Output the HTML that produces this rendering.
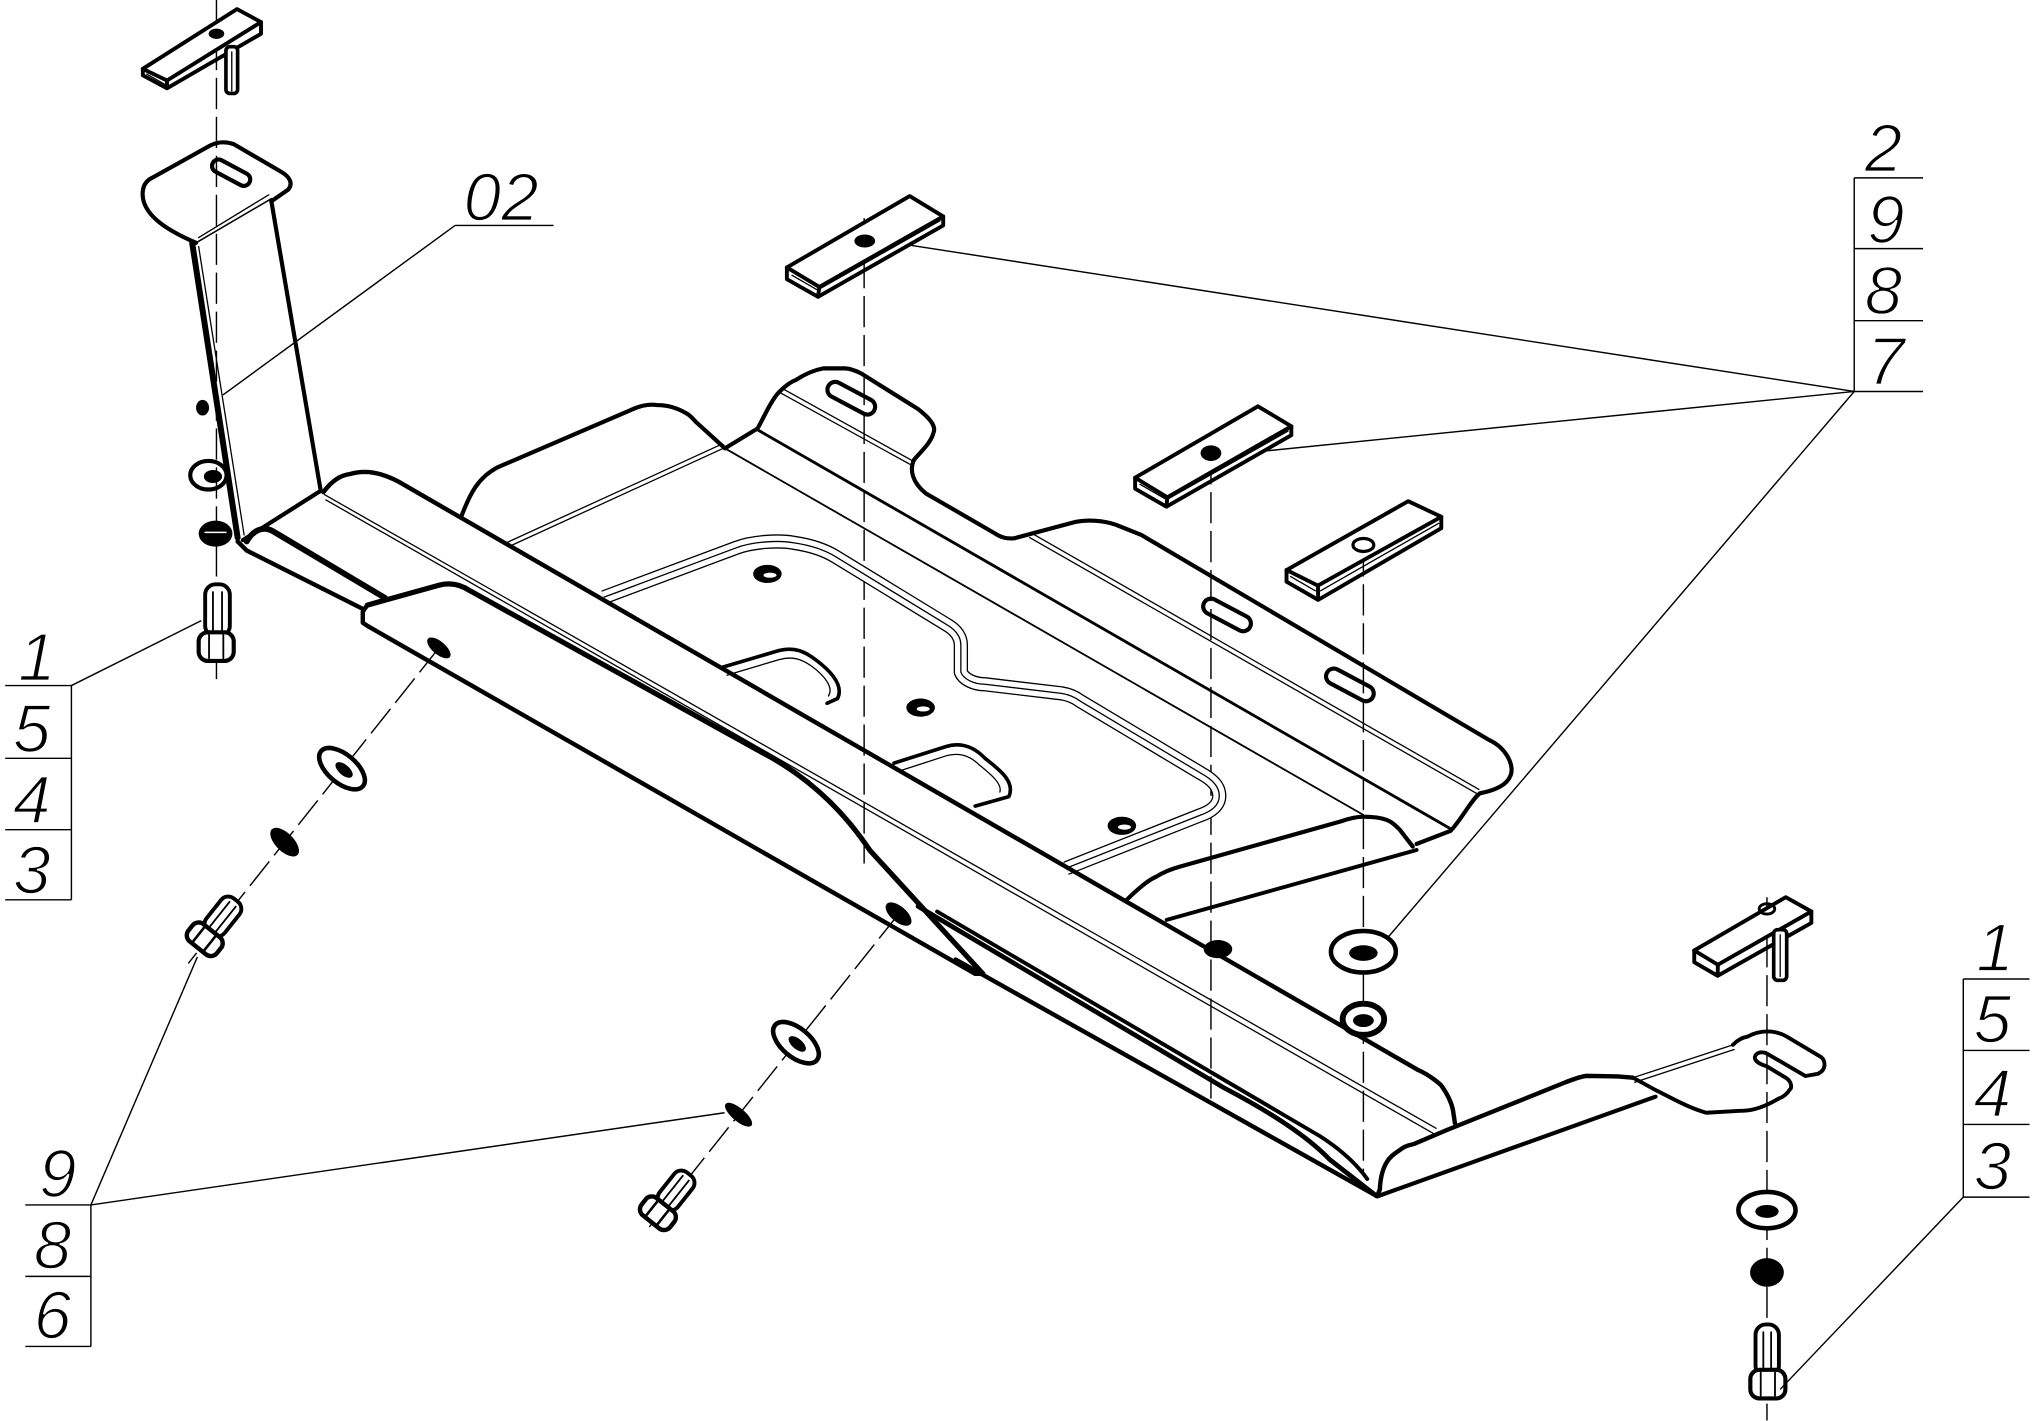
<!DOCTYPE html>
<html><head><meta charset="utf-8"><style>html,body{margin:0;padding:0;background:#fff}svg{display:block}text{font-family:"Liberation Sans",sans-serif;font-style:italic;font-size:52px;fill:#000;stroke:#fff;stroke-width:1.3px;paint-order:normal}</style></head>
<body>
<svg xmlns="http://www.w3.org/2000/svg" width="2036" height="1421" viewBox="0 0 1568 1094.4" preserveAspectRatio="none">
<rect x="0" y="0" width="1568" height="1094.4" fill="#fff"/>
<g fill="none" stroke="#000" stroke-linejoin="round" stroke-linecap="round">

<!-- centerlines -->
<g stroke-width="1.1" stroke-dasharray="24 6" stroke-linecap="butt">
<line x1="166.7" y1="0" x2="166.7" y2="523"/>
<line x1="665.5" y1="168" x2="665.5" y2="665"/>
<line x1="932.6" y1="349" x2="932.6" y2="846"/>
<line x1="1050" y1="420" x2="1050" y2="905"/>
<line x1="1360.8" y1="691" x2="1360.8" y2="1094"/>
<line x1="338" y1="499" x2="145" y2="742"/>
<line x1="692" y1="704" x2="500" y2="945"/>
</g>

<!-- stiffener triple lines -->
<path d="M465,460 L567,421.9 C580,417 600,416 611,418 C625,420 636,424 644,429 L729,481 C736,485 740,490 740,497 L740,517.7 C742,523 750,527 758.6,527 L817.5,534 C824,535 828,537 832,540 L924,595 C933,600 939,605 939,613 C939,620 933,625 924,628 L821,668.7" stroke-width="11" stroke-linecap="butt"/>
<path d="M465,460 L567,421.9 C580,417 600,416 611,418 C625,420 636,424 644,429 L729,481 C736,485 740,490 740,497 L740,517.7 C742,523 750,527 758.6,527 L817.5,534 C824,535 828,537 832,540 L924,595 C933,600 939,605 939,613 C939,620 933,625 924,628 L821,668.7" stroke-width="9" stroke="#fff" stroke-linecap="butt"/>
<path d="M465,460 L567,421.9 C580,417 600,416 611,418 C625,420 636,424 644,429 L729,481 C736,485 740,490 740,497 L740,517.7 C742,523 750,527 758.6,527 L817.5,534 C824,535 828,537 832,540 L924,595 C933,600 939,605 939,613 C939,620 933,625 924,628 L821,668.7" stroke-width="1" stroke-linecap="butt"/>

<!-- pockets -->
<g stroke-width="2.8">
<path d="M556,514 L600,501 C612,498 620,502 628,508 C640,517 650,528 645,538 L637,541.6"/>
<path d="M688.5,587.7 L729,574.8 C742,571 752,577 758.6,584 C770,593 782,602 777,613.5 L751,620.8"/>
</g>
<g stroke-width="1">
<path d="M560,520 L600,508 C611,505 618,508 625,513 C636,521 642,530 638,536"/>
<path d="M692,594 L729,582 C740,579 748,583 754,589 C764,597 772,604 770,610"/>
</g>

<!-- tray outline -->
<path d="M355,398.5 C362,380 368,368 383,360 L486,315.7 C494,312 500,311 506,312 C514,312 521,314 528,318 C532,320 534,323 536,325 L558.3,345.3 L583.4,330 C588,322 594,308 600,302 C605,297 609,294 613,292.6 C620,288 627,285 634,283.7 L651,283.7 C656,284 660,286 663,287.5 L707,315 C716,322 721,328 719,333 C717,341 710,347 704,354 C700,362 703,372 713,380 L766,410.7 C771,414 775,415 781,414.6 L828,402 C838,400 850,401 859,404 L879,412 L1147,570 C1160,576 1167,590 1163,598 C1160,605 1150,609 1139.7,611 C1133,616 1125,632 1117,640 L1091,650" stroke-width="3.2"/>
<!-- tray inner lines -->
<path d="M558.3,345.3 L1049.9,627.6" stroke-width="1.4"/>
<path d="M583.4,331 L1116.6,638" stroke-width="2.2"/>
<g stroke-width="1">
<path d="M601,302.5 L700.6,357.5 M604,300 L703,355"/>
<path d="M793,414 L1137,611 M796,411.5 L1139,608"/>
<path d="M392.9,420.5 L557.9,344.9 M390,418 L555,342.5"/>
</g>
<!-- slots -->
<rect x="-20" y="-6" width="40" height="12" rx="6" transform="translate(655.6,306.7) rotate(28)" stroke-width="3.2"/>
<rect x="-20" y="-6" width="40" height="12" rx="6" transform="translate(945,473.6) rotate(28)" stroke-width="3.2"/>
<rect x="-20" y="-6" width="40" height="12" rx="6" transform="translate(1039.6,527.5) rotate(28)" stroke-width="3.2"/>

<!-- right recess -->
<path d="M867.7,693 C877,684 884,678 890.8,675 C897,671 903,669 908.7,667.4 L1032,632.8 C1040,630 1045,629 1050,629 C1058,629 1064,630 1068,631.5 C1072,633 1075,636 1078,639 L1088,652" stroke-width="3.2"/>
<path d="M898.5,708.5 L1091,654.6" stroke-width="3"/>

<!-- holes -->
<g fill="#000" stroke="none">
<ellipse cx="591" cy="442" rx="11" ry="7"/>
<ellipse cx="709" cy="545" rx="11" ry="7"/>
<ellipse cx="864" cy="636" rx="11" ry="7"/>
<ellipse cx="938" cy="731" rx="11" ry="7"/>
</g>
<g fill="#fff" stroke="none">
<ellipse cx="593" cy="443" rx="5" ry="2"/>
<ellipse cx="711" cy="546" rx="5" ry="2"/>
<ellipse cx="866" cy="637" rx="5" ry="2"/>
</g>

<!-- rail -->
<path d="M249,379 C256,370 262,366 270,365 C280,362 292,363 307,371 L1092,824 C1101,828 1108,834 1110,836 C1115,843 1118,850 1119,855 L1120.5,865" stroke-width="3.4"/>
<g stroke-width="1">
<path d="M250,381 L1106,869"/>
<path d="M251,385 L1104,873"/>
</g>
<path d="M183,417 L190,424 L279.5,469" stroke-width="3.4"/>
<path d="M190,417 C195,408 203,405 210,409 L296.5,460.5" stroke-width="4.5"/>

<!-- flap -->
<path d="M282.9,466 L338,450.7 C348,448 356,451 362,455 L595,584 Q640,610 670,655 L757,750" stroke-width="4"/>
<path d="M282.9,466 L279.4,471 L279.4,479.6 L282.9,482 L751,750 L757,750" stroke-width="3.4"/>
<g fill="#000" stroke="none">
<ellipse cx="338" cy="499" rx="11" ry="5" transform="rotate(40 338 499)"/>
<ellipse cx="692" cy="704" rx="12" ry="6" transform="rotate(40 692 704)"/>
</g>

<!-- rail to tip -->
<path d="M707,698 L943,838 Q1000,868 1024,893 L1060,921" stroke-width="3.6"/>
<path d="M721.7,702 L1016.5,875 Q1040,890 1053,908" stroke-width="3"/>
<path d="M736,739 L1060,921" stroke-width="3.4"/>

<!-- right flange -->
<path d="M1060.7,921 L1062.7,916 C1063,907 1065,900 1068,895 C1071,890 1075,888 1079,885 C1083,882 1086,882 1089,881 L1115,870 L1204.5,834 C1212,831 1218,829 1222,828.6 L1246,829 L1257.6,830" stroke-width="3.4"/>
<path d="M1060.7,921.4 L1275,844.6" stroke-width="3.2"/>
<path d="M1257.6,830 L1334.6,804.7 M1259,833.5 L1335.5,808.3" stroke-width="1"/>
<path d="M1334.6,804.7 C1338,801 1342,799 1346,798.3 C1352,795 1358,794 1364,794.5 C1369,795 1372,796 1376,798.3 L1402,813.8 C1406,816 1407,824 1400,827 L1390.5,828.7 L1360,811 C1354,809 1350,813 1352,816.3 C1354,819 1357,820 1361,821.4 L1375.5,830.2 C1380,833 1380,838 1378.5,839 C1376,843 1373,845 1370,846 C1360,852 1350,856 1340,855.5 L1314,857 C1300,853 1288,846 1275,839.5 L1257.6,830" stroke-width="3"/>

<!-- left washer (behind arm) -->
<ellipse cx="160.5" cy="366" rx="14" ry="11" stroke-width="3.2"/>
<ellipse cx="164" cy="367" rx="7" ry="5" fill="#000" stroke="none"/>

<!-- bracket (left) -->
<path d="M151,187 C130,178 112,167 110,152 C109,143 113,139 117,137 L162,112 C168,109 174,109 180,111 L216,132 C223,136 226,141 222,146 L209,155" stroke-width="3.2"/>
<path d="M209,155 L247,378" stroke-width="3.2"/>
<path d="M151,187 L209,153" stroke-width="1.2"/>
<path d="M153,183 L207,150" stroke-width="1"/>
<path d="M148,187 L183,414" stroke-width="4.6"/>
<path d="M153,190 L188,412" stroke-width="1"/>
<path d="M247,378 L187,416" stroke-width="3.2"/>
<rect x="-16" y="-5" width="32" height="10" rx="5" transform="translate(178,133) rotate(28)" stroke-width="3.2"/>

<!-- left vertical fasteners -->
<ellipse cx="156" cy="314" rx="5" ry="6" fill="#000" stroke="none"/>
<ellipse cx="166" cy="411" rx="13" ry="10" fill="#000" stroke="none"/>
<path d="M158,410 L174,410" stroke="#fff" stroke-width="1.2"/>
<rect x="158" y="450" width="19" height="40" rx="8" stroke-width="3" fill="#fff"/>
<path d="M164,456 L164,488 M171,456 L171,488" stroke-width="1.4"/>
<rect x="153" y="487" width="27" height="22" rx="7" stroke-width="3.2" fill="#fff"/>
<path d="M161,489 L161,507 M172,489 L172,507" stroke-width="1.4"/>

<!-- top-left clip -->
<path d="M110,53 L182.5,7 L201,17 L128.6,62 Z" stroke-width="3" fill="#fff"/>
<path d="M110,53 L110,58 L128.6,68 L201,26 L201,17 M128.6,62 L128.6,68" stroke-width="3"/>
<path d="M113,57 L127,65" stroke-width="1"/>
<ellipse cx="166.7" cy="26" rx="6" ry="4" fill="#000" stroke="none"/>
<rect x="174" y="36" width="9" height="36" rx="3" stroke-width="2.8" fill="#fff"/>
<path d="M178.5,40 L178.5,70" stroke-width="1"/>

<!-- clip 2 (upper middle) -->
<path d="M606,206 L700.6,151 L726.4,166.7 L631,221 Z" stroke-width="3" fill="#fff"/>
<path d="M606,206 L606,215 L630,228.6 L726.4,173.6 L726.4,166.7 M631,221 L630,228.6" stroke-width="3"/>
<path d="M610,212 L629,223 M632,222 L724,170" stroke-width="1"/>
<ellipse cx="666" cy="185.6" rx="8" ry="5" fill="#000" stroke="none"/>

<!-- clip 3 -->
<path d="M874.2,367.9 L968.8,312.9 L994.5,328.3 L899,383 Z" stroke-width="3" fill="#fff"/>
<path d="M874.2,367.9 L874.2,376.4 L898.3,390.2 L994.5,335.2 L994.5,328.3 M899,383 L898.3,390.2" stroke-width="3"/>
<path d="M878,373 L897,384 M900,384 L992,332" stroke-width="1"/>
<ellipse cx="932.6" cy="349" rx="8" ry="6" fill="#000" stroke="none"/>

<!-- clip 4 -->
<path d="M990.8,439 L1084.5,386 L1110,398 L1015,451 Z" stroke-width="3" fill="#fff"/>
<path d="M990.8,439 L990.8,448 L1015.2,462 L1110,406.8 L1110,398 M1015,451 L1015.2,462" stroke-width="3"/>
<path d="M994,444 L1013,455 M1017,455 L1108,403" stroke-width="1"/>
<ellipse cx="1050" cy="419.7" rx="8" ry="5" stroke-width="2.5"/>

<!-- right clip 5 -->
<path d="M1304.8,732 L1375.3,691 L1395,702 L1323,743 Z" stroke-width="3" fill="#fff"/>
<path d="M1304.8,732 L1304.8,741 L1322.8,751.5 L1395,710.8 L1395,702 M1323,743 L1322.8,751.5" stroke-width="3"/>
<ellipse cx="1360.8" cy="700" rx="6" ry="4" stroke-width="2.2"/>
<rect x="1366" y="716" width="10" height="39" rx="3" stroke-width="2.8" fill="#fff"/>
<path d="M1371,720 L1371,752" stroke-width="1"/>

<!-- right centre washers -->
<ellipse cx="1050" cy="733" rx="25" ry="16" stroke-width="3.5" fill="#fff"/>
<ellipse cx="1050" cy="734" rx="11" ry="6" fill="#000" stroke="none"/>
<ellipse cx="1050" cy="785" rx="16" ry="12" stroke-width="4.5" fill="#fff"/>
<ellipse cx="1050" cy="786" rx="8" ry="5" fill="#000" stroke="none"/>

<!-- right vertical fasteners -->
<ellipse cx="1360.8" cy="932" rx="22" ry="14" stroke-width="3.5" fill="#fff"/>
<ellipse cx="1360.8" cy="933" rx="9" ry="5" fill="#000" stroke="none"/>
<ellipse cx="1360.8" cy="980" rx="13" ry="11" fill="#000" stroke="none"/>
<rect x="1352" y="1020" width="18" height="40" rx="8" stroke-width="3" fill="#fff"/>
<path d="M1358,1026 L1358,1057 M1364,1026 L1364,1057" stroke-width="1.4"/>
<rect x="1348" y="1055" width="27" height="22" rx="7" stroke-width="3.2" fill="#fff"/>
<path d="M1356,1057 L1356,1075 M1367,1057 L1367,1075" stroke-width="1.4"/>

<!-- oblique fasteners set 1 -->
<ellipse cx="263.4" cy="592" rx="21" ry="11" transform="rotate(40 263.4 592)" stroke-width="3.5" fill="#fff"/>
<ellipse cx="265" cy="593" rx="8" ry="4" transform="rotate(40 265 593)" fill="#000" stroke="none"/>
<ellipse cx="219.2" cy="648.6" rx="14" ry="7" transform="rotate(45 219.2 648.6)" fill="#000" stroke="none"/>
<g transform="translate(158,723) rotate(38.5)">
<rect x="-9" y="-38" width="18" height="32" rx="7" stroke-width="3" fill="#fff"/>
<path d="M-3,-34 L-3,-8 M3,-34 L3,-8" stroke-width="1.4"/>
<rect x="-14" y="-8" width="28" height="17" rx="6" stroke-width="3.4" fill="#fff"/>
<path d="M-6,-6 L-6,7 M5,-6 L5,7" stroke-width="2"/>
</g>

<!-- oblique fasteners set 2 -->
<ellipse cx="613" cy="803" rx="21" ry="11" transform="rotate(40 613 803)" stroke-width="3.5" fill="#fff"/>
<ellipse cx="614" cy="804" rx="8" ry="4" transform="rotate(40 614 804)" fill="#000" stroke="none"/>
<ellipse cx="568.8" cy="858.5" rx="13" ry="5" transform="rotate(40 568.8 858.5)" fill="#000" stroke="none"/>
<g transform="translate(507,934) rotate(38.5)">
<rect x="-9" y="-38" width="18" height="32" rx="7" stroke-width="3" fill="#fff"/>
<path d="M-3,-34 L-3,-8 M3,-34 L3,-8" stroke-width="1.4"/>
<rect x="-14" y="-8" width="28" height="17" rx="6" stroke-width="3.4" fill="#fff"/>
<path d="M-6,-6 L-6,7 M5,-6 L5,7" stroke-width="2"/>
</g>

<!-- leaders and label grids -->
<g stroke-width="1.1" stroke-linecap="butt">
<path d="M350.5,173.6 L426.3,173.6 M350.5,173.6 L171.7,304.2"/>
<path d="M55,528 L155,478"/>
<path d="M1428,301.5 L702,189 M1428,301.5 L975.6,347.2 M1428,301.5 L1068,723"/>
<path d="M70,928 L152,737 M70,928 L558,857"/>
<path d="M1512,922 L1371,1070"/>
<path d="M4,528 L55,528 L55,693 M4,584 L55,584 M4,639 L55,639 M4,693 L55,693"/>
<path d="M19.5,928 L70,928 L70,1037 M19.5,983 L70,983 M19.5,1037 L70,1037"/>
<path d="M1428,137 L1481,137 M1428,137 L1428,301.5 M1428,191.5 L1481,191.5 M1428,247 L1481,247 M1428,301.5 L1481,301.5"/>
<path d="M1512,754 L1563,754 M1512,754 L1512,922 M1512,809 L1563,809 M1512,866 L1563,866 M1512,922 L1563,922"/>
</g>
</g>

<!-- labels -->
<text x="357" y="170">02</text>
<text x="14" y="524">1</text>
<text x="10" y="579">5</text>
<text x="10" y="634">4</text>
<text x="10" y="688">3</text>
<text x="30" y="922">9</text>
<text x="26" y="977">8</text>
<text x="26" y="1031">6</text>
<text x="1436" y="132">2</text>
<text x="1438" y="187">9</text>
<text x="1436" y="242">8</text>
<text x="1438" y="296">7</text>
<text x="1522" y="748">1</text>
<text x="1520" y="803">5</text>
<text x="1520" y="860">4</text>
<text x="1520" y="916">3</text>
</svg>
</body></html>
